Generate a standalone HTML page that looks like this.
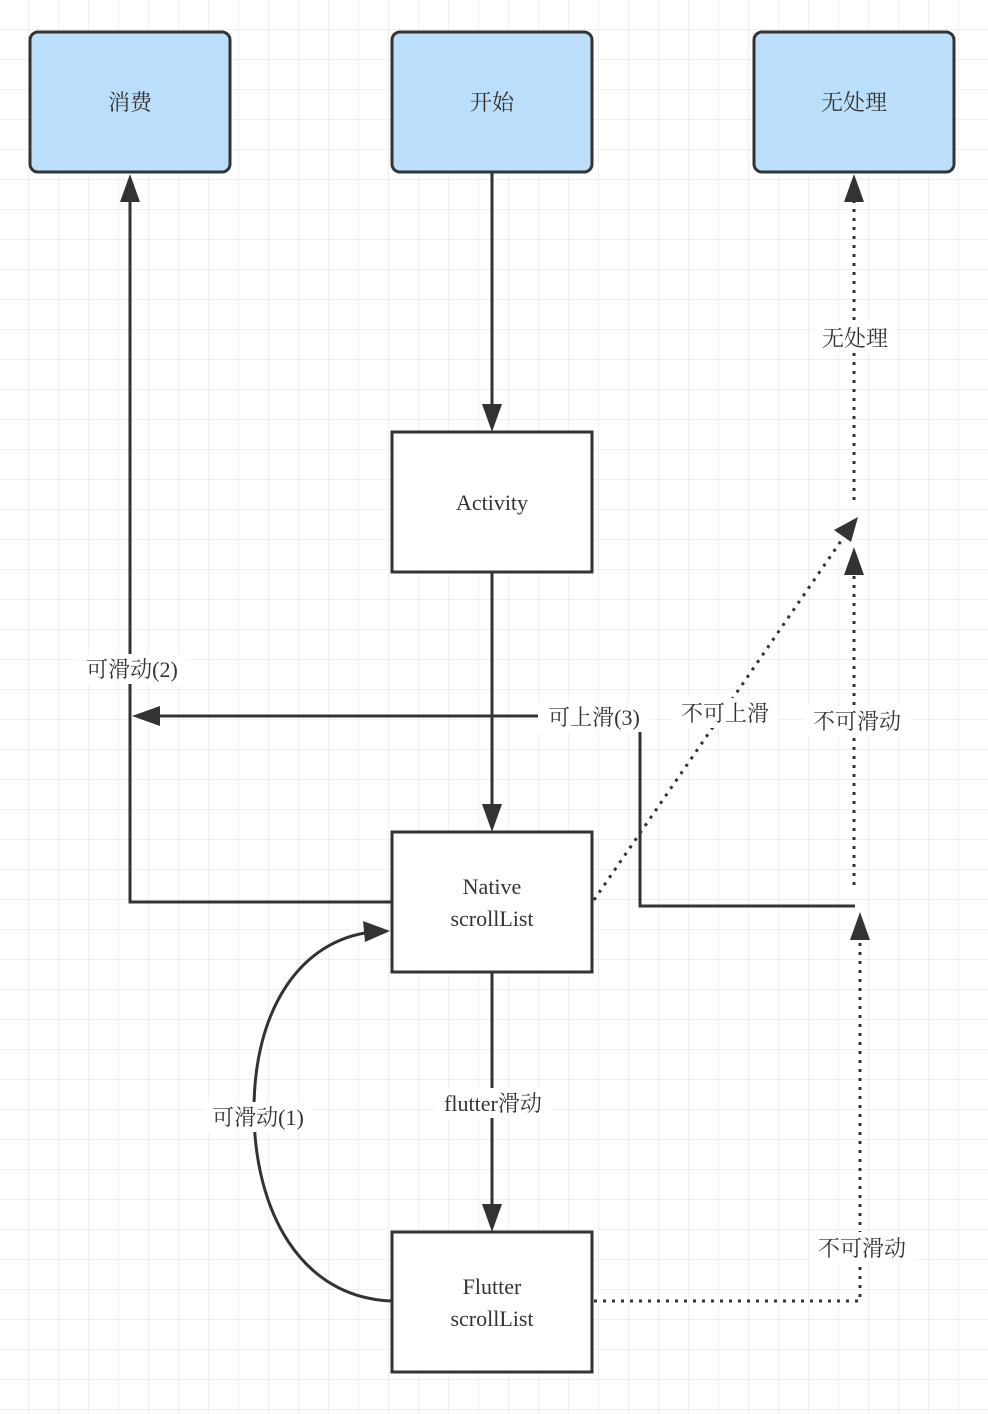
<!DOCTYPE html>
<html><head><meta charset="utf-8"><style>
html,body{margin:0;padding:0;background:#fff;}
body{width:988px;height:1414px;overflow:hidden;}
svg{display:block;}
text{font-family:"Liberation Serif","Noto Serif CJK SC","Noto Sans CJK SC",serif;font-size:22px;fill:#333;}
</style></head><body>
<svg width="988" height="1414" viewBox="0 0 988 1414" xmlns="http://www.w3.org/2000/svg">
<defs>
<pattern id="g" x="-1" y="0" width="30" height="30" patternUnits="userSpaceOnUse">
<path d="M30 0V30M0 30H30" stroke="#ececec" stroke-width="1.5" fill="none"/>
</pattern>
<marker id="a" viewBox="0 0 10 10" refX="9" refY="5" markerWidth="10" markerHeight="10" markerUnits="userSpaceOnUse" orient="auto">
</marker>
</defs>
<rect width="988" height="1414" fill="url(#g)"/>
<g fill="none" stroke="#333" stroke-width="3">
<!-- solid lines -->
<path d="M492 172V412"/>
<path d="M492 572V812"/>
<path d="M492 972V1212"/>
<path d="M392 902H130V195"/>
<path d="M855 906H640V716H152"/>
<path d="M392 1301C300 1298 254 1210 254 1110C254 1010 300 940 372 932"/>
<!-- dotted -->
<g stroke-dasharray="3 6">
<path d="M594 900L843 538"/>
<path d="M854 885V572"/>
<path d="M854 500V198"/>
<path d="M594 1301H860V937"/>
</g>
</g>
<g fill="#333">
<polygon points="492,432 482,404 502,404"/>
<polygon points="492,832 482,804 502,804"/>
<polygon points="492,1232 482,1204 502,1204"/>
<polygon points="130,174 120,202 140,202"/>
<polygon points="132,716 160,706 160,726"/>
<polygon points="390,931 363,921 365,942"/>
<polygon points="858,517 834,530 851,542"/>
<polygon points="854,547 844,575 864,575"/>
<polygon points="854,174 844,202 864,202"/>
<polygon points="860,912 850,940 870,940"/>
</g>
<!-- boxes -->
<g stroke="#333" stroke-width="3">
<rect x="30" y="32" width="200" height="140" rx="8" fill="#bbdefb"/>
<rect x="392" y="32" width="200" height="140" rx="8" fill="#bbdefb"/>
<rect x="754" y="32" width="200" height="140" rx="8" fill="#bbdefb"/>
<rect x="392" y="432" width="200" height="140" fill="#fff"/>
<rect x="392" y="832" width="200" height="140" fill="#fff"/>
<rect x="392" y="1232" width="200" height="140" fill="#fff"/>
</g>
<g text-anchor="middle">
<text x="130" y="110">消费</text>
<text x="492" y="110">开始</text>
<text x="854" y="110">无处理</text>
<text x="492" y="510">Activity</text>
<text x="492" y="894">Native</text>
<text x="492" y="926">scrollList</text>
<text x="492" y="1294">Flutter</text>
<text x="492" y="1326">scrollList</text>
</g>
<!-- labels with white bg -->
<g fill="#fff">
<rect x="78" y="654" width="108" height="30"/>
<rect x="538" y="702" width="112" height="30"/>
<rect x="672" y="698" width="106" height="30"/>
<rect x="804" y="706" width="106" height="30"/>
<rect x="815" y="322" width="80" height="30"/>
<rect x="434" y="1088" width="118" height="30"/>
<rect x="204" y="1102" width="108" height="30"/>
<rect x="810" y="1232" width="104" height="30"/>
</g>
<g text-anchor="middle">
<text x="132" y="677">可滑动(2)</text>
<text x="594" y="725">可上滑(3)</text>
<text x="725" y="721">不可上滑</text>
<text x="857" y="729">不可滑动</text>
<text x="855" y="346">无处理</text>
<text x="493" y="1111">flutter滑动</text>
<text x="258" y="1125">可滑动(1)</text>
<text x="862" y="1256">不可滑动</text>
</g>
</svg>
</body></html>
